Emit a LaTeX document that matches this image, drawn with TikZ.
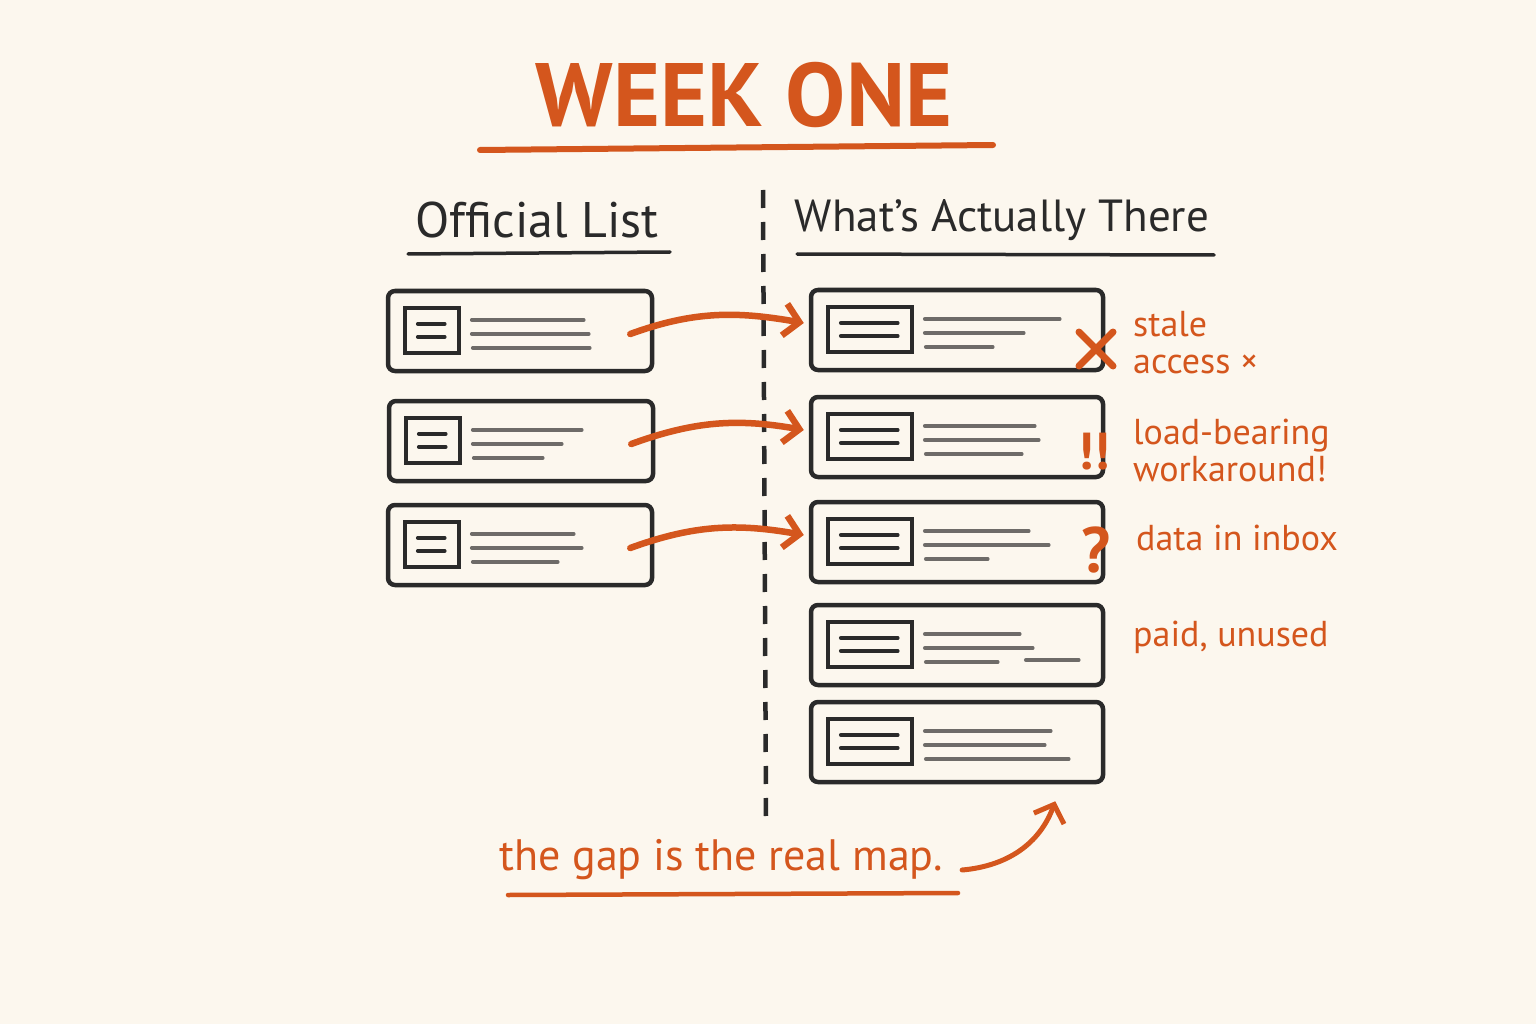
\documentclass[tikz,border=0pt]{standalone}
\usepackage{fontspec}
\setmainfont{PT Sans}
\usetikzlibrary{arrows.meta}
\definecolor{paper}{HTML}{FCF7EE}
\definecolor{rust}{HTML}{D4561D}
\definecolor{ink}{HTML}{2A2A2A}
\definecolor{pencil}{HTML}{6E6B68}

\begin{document}
\begin{tikzpicture}[x=1pt,y=-1pt]
  \tikzstyle{card}=[draw=ink,line width=4.5pt,rounded corners=7pt,minimum height=80pt,inner sep=0pt]
  \tikzstyle{offcard}=[card,minimum width=264pt]
  \tikzstyle{actcard}=[card,minimum width=292pt]
  \tikzstyle{icon}=[draw=ink,line width=3.6pt,line cap=round]
  \tikzstyle{textline}=[draw=pencil,line width=3.6pt,line cap=round]
  \tikzstyle{hand}=[draw=rust,line width=6.5pt,line cap=round,-{Straight Barb[length=15pt,width=32pt]}]
  \tikzstyle{heading}=[text=ink,font=\fontsize{50}{56}\selectfont]
  \tikzstyle{note}=[text=rust,anchor=west,align=left,inner sep=0pt,font=\fontsize{36}{37}\selectfont]

  \fill[paper] (0,0) rectangle (1536,1024);
  \useasboundingbox (0,0) rectangle (1536,1024);

  % title
  \node[text=rust,font=\fontsize{90}{92}\selectfont\bfseries] (title) at (744,95) {WEEK ONE};
  \draw[rust,line width=6pt,line cap=round] (480,150) -- (993,145);

  % column heads
  \node[heading] (offhead) at (537,220) {Official List};
  \node[heading,font=\fontsize{45}{56}\selectfont] (acthead) at (1002,220) {What’s Actually There};
  \draw[ink,line width=3.5pt,line cap=round] (408,254) -- (670,252);
  \draw[ink,line width=3.5pt,line cap=round] (797,254) -- (1214,255);

  % divider
  \coordinate (divtop) at (763,190);
  \coordinate (divbot) at (766,818);
  \draw[ink,line width=4.5pt,dash pattern=on 18pt off 14pt] (divtop) -- (divbot);

  % cards
  \node[offcard] (off1) at (520,331) {};
  \node[offcard] (off2) at (521,441) {};
  \node[offcard] (off3) at (520,545) {};
  \node[actcard] (act1) at (957,330) {};
  \node[actcard] (act2) at (957,437) {};
  \node[actcard] (act3) at (957,542) {};
  \node[actcard] (act4) at (957,645) {};
  \node[actcard] (act5) at (957,742) {};
  \foreach \n/\w/\a/\b/\c in {off1/54/198/203/204, off2/54/195/175/156, off3/54/188/196/172,
      act1/84/251/215/184, act2/84/226/230/213, act3/84/220/240/179,
      act4/84/211/224/189, act5/84/242/236/260}
  {
    \begin{scope}[shift={(\n.west)}]
      \draw[icon] (19,-23) rectangle ({19+\w},22);
      \draw[icon] (32,-7) -- ({\w+5},-7);
      \draw[icon] (32,6) -- ({\w+5},6);
      \draw[textline] ({\w+32},-11) -- (\a,-11);
      \draw[textline] ({\w+32},3) -- (\b,3);
      \draw[textline] ({\w+33},17) -- (\c,17);
    \end{scope}
  }
  \draw[textline] ([xshift=217pt,yshift=-15pt]act4.west) -- ([xshift=270pt,yshift=-15pt]act4.west);

  % arrows
  \foreach \i in {1,2,3}
    \draw[hand] ([xshift=-24pt,yshift=-3pt]off\i.east) to[out=20,in=170] ([xshift=-5pt,yshift=7pt]act\i.west);

  % marks and notes
  \draw[rust,line width=7pt,line cap=round] (1079,332) -- (1113,366) (1113,332) -- (1079,366);
  \node[text=rust,font=\fontsize{52}{52}\selectfont\bfseries] (bang) at (1094,452) {!!};
  \node[text=rust,font=\fontsize{64}{64}\selectfont\bfseries] (query) at (1096,550) {?};
  \node[note] (stale) at (1133,343) {stale\\access ×};
  \node[note] (loadbear) at (1133,450) {load-bearing\\workaround!};
  \node[note] (inbox) at (1136,538) {data in inbox};
  \node[note] (unused) at (1133,637) {paid, unused};

  % footer
  \node[text=rust,font=\fontsize{44}{48}\selectfont] (gap) at (721,860) {the gap is the real map.};
  \draw[rust,line width=4.5pt,line cap=round] (508,895) -- (958,893);
  \draw[hand,line width=5pt] ([xshift=16pt,yshift=-10pt]gap.east) to[out=5,in=250] ([xshift=-50pt,yshift=-17pt]act5.south east);
\end{tikzpicture}
\end{document}
